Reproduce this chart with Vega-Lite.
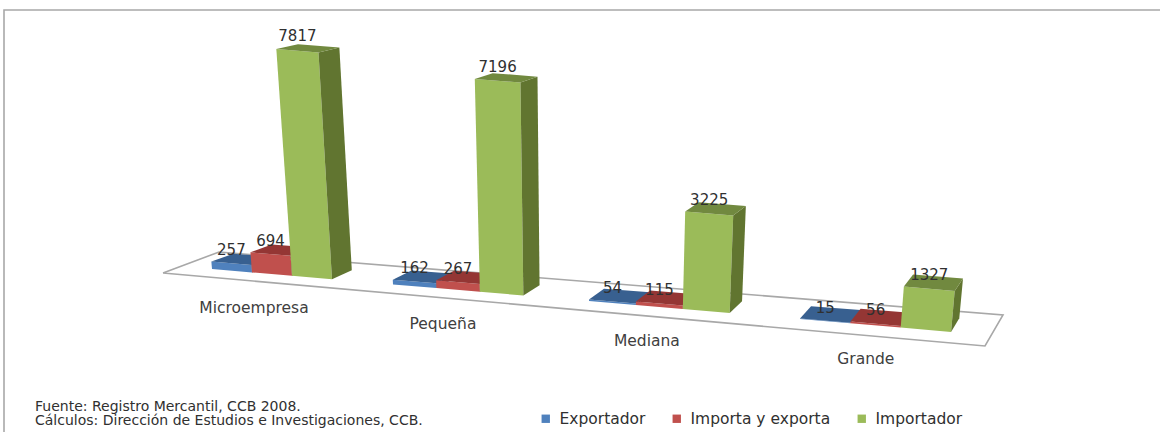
{
"$schema":"https://vega.github.io/schema/vega-lite/v6.json",
"width":1160,"height":392,"padding":0,"autosize":{"type":"pad"},"background":"white",
"config":{"view":{"stroke":null}},
"title":{"text":["Fuente: Registro Mercantil, CCB 2008.","Cálculos: Dirección de Estudios e Investigaciones, CCB."],"orient":"bottom","anchor":"start","dx":35,"offset":-35,"font":"DejaVu Sans","fontSize":14,"fontWeight":"normal","color":"#303030","lineHeight":14},
"datasets":{
"bars":[
{"category":"Microempresa","series":"Exportador","value":257},
{"category":"Microempresa","series":"Importa y exporta","value":694},
{"category":"Microempresa","series":"Importador","value":7817},
{"category":"Pequeña","series":"Exportador","value":162},
{"category":"Pequeña","series":"Importa y exporta","value":267},
{"category":"Pequeña","series":"Importador","value":7196},
{"category":"Mediana","series":"Exportador","value":54},
{"category":"Mediana","series":"Importa y exporta","value":115},
{"category":"Mediana","series":"Importador","value":3225},
{"category":"Grande","series":"Exportador","value":15},
{"category":"Grande","series":"Importa y exporta","value":56},
{"category":"Grande","series":"Importador","value":1327}],
"outline":[
{"path":"frame","n":0,"px":4,"py":432},{"path":"frame","n":1,"px":4,"py":10},{"path":"frame","n":2,"px":1160,"py":10},
{"path":"floor","n":0,"px":163,"py":273},{"path":"floor","n":1,"px":219,"py":252},{"path":"floor","n":2,"px":1003,"py":315},{"path":"floor","n":3,"px":985,"py":346},{"path":"floor","n":4,"px":163,"py":273}]
},
"layer":[
{"data":{"name":"outline"},
 "mark":{"type":"line","stroke":"#a8a8a8","strokeWidth":1.6},
 "encoding":{"x":{"field":"px","type":"quantitative","scale":{"domain":[0,1160],"nice":false,"zero":false},"axis":null},
  "y":{"field":"py","type":"quantitative","scale":{"domain":[392,0],"nice":false,"zero":false},"axis":null},
  "detail":{"field":"path"},"order":{"field":"n"}}},
{"data":{"name":"bars"},
 "transform":[
 {"calculate":"indexof(['Microempresa','Pequeña','Mediana','Grande'],datum.category)","as":"i"},
 {"calculate":"indexof(['Exportador','Importa y exporta','Importador'],datum.series)","as":"s"},
 {"calculate":"[0,1,2]","as":"f"},{"flatten":["f"]},
 {"calculate":"[0,1,2,3]","as":"v"},{"flatten":["v"]},
 {"calculate":"40+3.45*datum.i","as":"w"},
 {"calculate":"212+173.5*datum.i+7.5*datum.i*datum.i+datum.s*datum.w","as":"xl"},
 {"calculate":"datum.value*(0.029+0.0000031*(datum.xl-290))","as":"H"},
 {"calculate":"[[0,1,1,0],[1,1,1,1],[0,1,1,0]][datum.f][datum.v]","as":"cu"},
 {"calculate":"[[0,0,0,0],[0,1,1,0],[0,0,1,1]][datum.f][datum.v]","as":"cd"},
 {"calculate":"[[0,0,1,1],[0,0,1,1],[1,1,1,1]][datum.f][datum.v]","as":"ct"},
 {"calculate":"datum.xl+datum.cu*datum.w","as":"bx"},
 {"calculate":"datum.ct*datum.H","as":"h"},
 {"calculate":"datum.bx+datum.cd*(26-0.0187*datum.bx)","as":"qx"},
 {"calculate":"269+0.0851*(datum.bx-212)-datum.cd*(8+0.0075*(datum.bx-212))*(1-0.002*datum.h)","as":"qy"},
 {"calculate":"datum.qx+datum.h*(datum.qx-580)*0.00024","as":"vx"},
 {"calculate":"datum.qy-datum.h","as":"vy"},
 {"calculate":"datum.series+' '+datum.f","as":"tone"},
 {"calculate":"datum.category+' '+datum.tone","as":"key"}
 ],
 "mark":{"type":"line","strokeWidth":0,"stroke":null},
 "encoding":{"x":{"field":"vx","type":"quantitative"},"y":{"field":"vy","type":"quantitative"},
  "fill":{"field":"tone","type":"nominal","legend":null,"scale":{
   "domain":["Exportador 0","Exportador 1","Exportador 2","Importa y exporta 0","Importa y exporta 1","Importa y exporta 2","Importador 0","Importador 1","Importador 2"],
   "range":["#4f81bd","#2f5078","#386090","#c0504d","#7a2f2d","#943634","#9bbb59","#617530","#71893f"]}},
  "detail":{"field":"key"},"order":{"field":"v"}}},
{"data":{"name":"bars"},
 "transform":[
 {"calculate":"indexof(['Microempresa','Pequeña','Mediana','Grande'],datum.category)","as":"i"},
 {"calculate":"indexof(['Exportador','Importa y exporta','Importador'],datum.series)","as":"s"},
 {"calculate":"40+3.45*datum.i","as":"w"},
 {"calculate":"212+173.5*datum.i+7.5*datum.i*datum.i+datum.s*datum.w","as":"xl"},
 {"calculate":"datum.value*(0.029+0.0000031*(datum.xl-290))","as":"H"},
 {"calculate":"datum.xl+datum.w/2","as":"bx"},
 {"calculate":"datum.bx+datum.H*(datum.bx-580)*0.00024","as":"lx"},
 {"calculate":"269+0.0851*(datum.bx-212)-(8+0.0075*(datum.bx-212))*(1-0.002*datum.H)-datum.H-5+1.5*datum.i-0.02*datum.H","as":"ly"}
 ],
 "mark":{"type":"text","font":"DejaVu Sans","fontSize":15,"color":"#303030","baseline":"middle"},
 "encoding":{"x":{"field":"lx","type":"quantitative"},"y":{"field":"ly","type":"quantitative"},"text":{"field":"value","type":"quantitative","format":"d"}}},
{"data":{"name":"bars"},
 "transform":[
 {"filter":"datum.series==='Exportador'"},
 {"calculate":"indexof(['Microempresa','Pequeña','Mediana','Grande'],datum.category)","as":"i"},
 {"calculate":"40+3.45*datum.i","as":"w"},
 {"calculate":"212+173.5*datum.i+7.5*datum.i*datum.i+datum.w","as":"bx"},
 {"calculate":"datum.bx+2+4.5*datum.i","as":"lx"},
 {"calculate":"269+0.0851*(datum.bx-212)+36","as":"ly"}
 ],
 "mark":{"type":"text","font":"DejaVu Sans","fontSize":15.5,"color":"#404040","baseline":"middle"},
 "encoding":{"x":{"field":"lx","type":"quantitative"},"y":{"field":"ly","type":"quantitative"},"text":{"field":"category","type":"nominal"}}},
{"data":{"name":"bars"},
 "mark":{"type":"square","opacity":0,"size":1},
 "encoding":{"color":{"field":"series","type":"nominal","scale":{"domain":["Exportador","Importa y exporta","Importador"],"range":["#4f81bd","#c0504d","#9bbb59"]},
  "legend":{"orient":"none","legendX":538,"legendY":411,"direction":"horizontal","title":null,"symbolType":"square","symbolSize":70,"symbolOpacity":1,"labelFont":"DejaVu Sans","labelFontSize":15.5,"labelColor":"#303030","labelOffset":6,"columnPadding":23,"gridAlign":"none"}}}}
]
}
